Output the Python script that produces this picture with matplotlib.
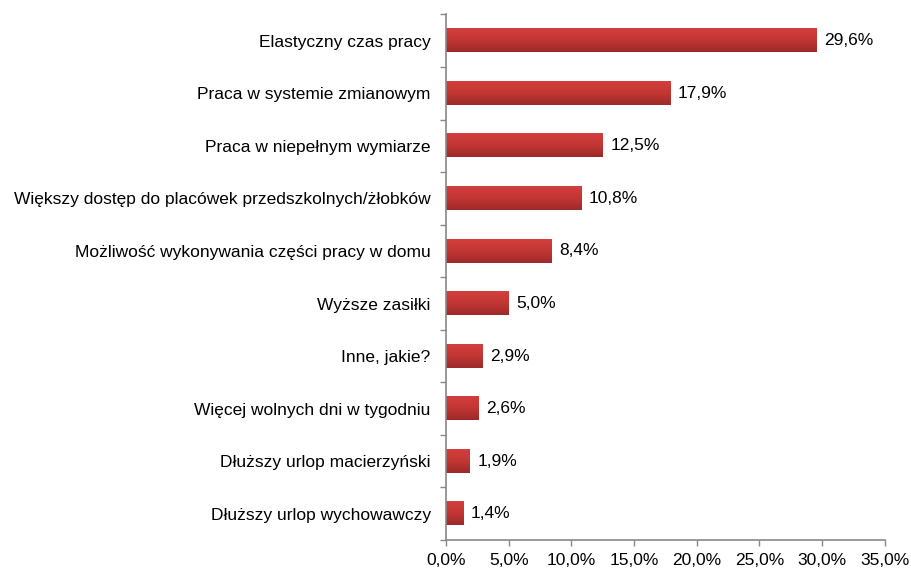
import matplotlib
matplotlib.use("Agg")
import matplotlib.pyplot as plt
import numpy as np
from matplotlib.colors import LinearSegmentedColormap
from matplotlib.ticker import MultipleLocator, FuncFormatter

categories = [
    "Elastyczny czas pracy",
    "Praca w systemie zmianowym",
    "Praca w niepełnym wymiarze",
    "Większy dostęp do placówek przedszkolnych/żłobków",
    "Możliwość wykonywania części pracy w domu",
    "Wyższe zasiłki",
    "Inne, jakie?",
    "Więcej wolnych dni w tygodniu",
    "Dłuższy urlop macierzyński",
    "Dłuższy urlop wychowawczy",
]
values = [29.6, 17.9, 12.5, 10.8, 8.4, 5.0, 2.9, 2.6, 1.9, 1.4]

plt.rcParams['font.family'] = ['Liberation Sans', 'DejaVu Sans']
FS = 12.5

fig = plt.figure(figsize=(9.12, 5.70), dpi=100)
ax = fig.add_axes([0.489, 0.0526, 0.481, 0.922])

n = len(categories)
ys = np.arange(n)[::-1]
h = 0.44
cmap = LinearSegmentedColormap.from_list("g", ["#9c2a2a", "#c23634", "#d23f3c"])
grad = np.linspace(0, 1, 64).reshape(-1, 1)

bars = ax.barh(ys, values, height=h, color="none", edgecolor="none")
for y, v in zip(ys, values):
    ax.imshow(grad, extent=[0, v, y - h / 2, y + h / 2], origin="lower",
              cmap=cmap, aspect="auto", zorder=2)
    ax.text(v + 0.6, y, f"{v:.1f}%".replace(".", ","), va="center", ha="left",
            fontsize=FS, color="black")

ax.set_xlim(0, 35)
ax.set_ylim(-0.5, n - 0.5)
ax.xaxis.set_major_locator(MultipleLocator(5))
ax.xaxis.set_major_formatter(FuncFormatter(lambda x, p: f"{x:.1f}%".replace(".", ",")))
ax.set_yticks(ys)
ax.set_yticklabels(categories, fontsize=FS)
ax.tick_params(axis='y', length=0, pad=11)
ax.set_yticks(np.arange(-0.5, n, 1), minor=True)
ax.tick_params(axis='y', which='minor', length=4, color="#888888", width=1)
ax.tick_params(axis='x', length=4, color="#888888", width=1, labelsize=FS, pad=5)

for s in ["top", "right"]:
    ax.spines[s].set_visible(False)
for s in ["left", "bottom"]:
    ax.spines[s].set_color("#888888")
    ax.spines[s].set_linewidth(1.2)

fig.savefig("out.png", dpi=100)
